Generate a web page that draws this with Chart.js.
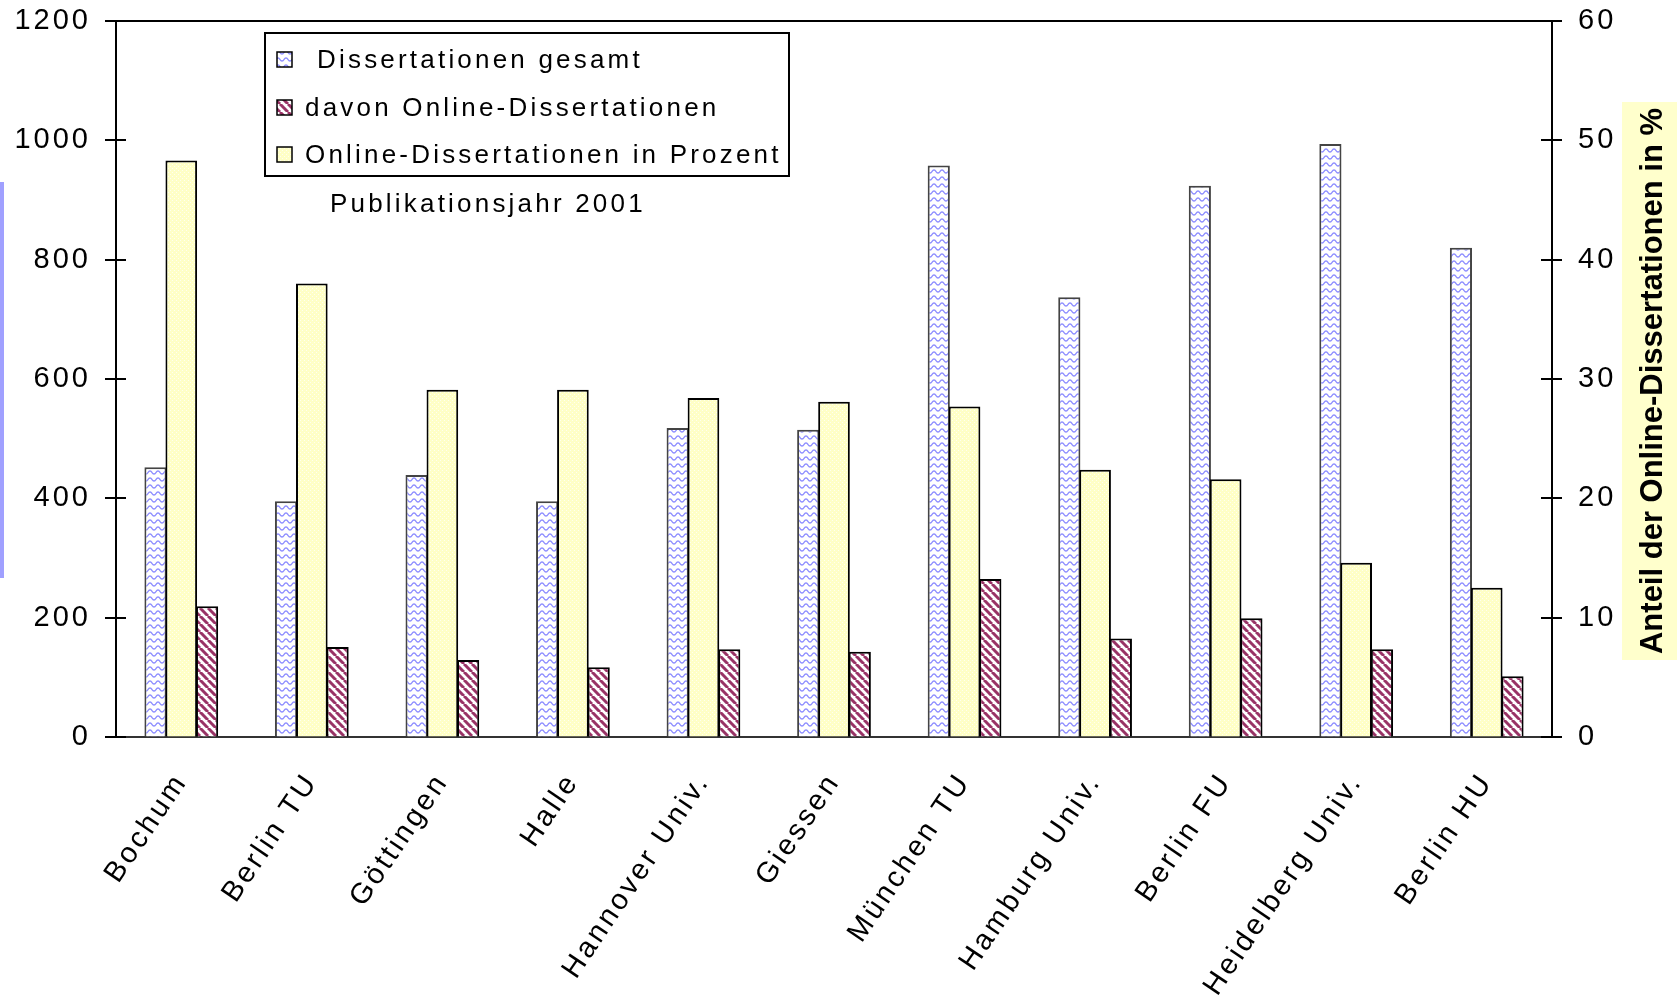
<!DOCTYPE html>
<html>
<head>
<meta charset="utf-8">
<script src="https://cdn.jsdelivr.net/npm/chart.js@4.4.1/dist/chart.umd.min.js"></script>
<style>
  html, body { margin: 0; padding: 0; background: #fff; }
  #wrap { width: 1677px; height: 999px; }
</style>
</head>
<body>
<div id="wrap"><canvas id="chart" width="1677" height="999"></canvas></div>
<script>
const universities = ['Bochum', 'Berlin TU', 'Göttingen', 'Halle', 'Hannover Univ.', 'Giessen',
  'München TU', 'Hamburg Univ.', 'Berlin FU', 'Heidelberg Univ.', 'Berlin HU'];
const totalDiss = [452, 395, 439, 395, 518, 515, 958, 737, 924, 994, 820];
const onlineDiss = [219, 151, 129, 117, 147, 143, 265, 165, 199, 147, 102];
const onlinePercent = [48.3, 38.0, 29.1, 29.1, 28.4, 28.1, 27.7, 22.4, 21.6, 14.6, 12.5];
const leftTicks = [0, 200, 400, 600, 800, 1000, 1200];
const rightTicks = [0, 10, 20, 30, 40, 50, 60];
const seriesNames = ['Dissertationen gesamt', 'davon Online-Dissertationen', 'Online-Dissertationen in Prozent'];
const subtitle = 'Publikationsjahr 2001';
const rightTitle = 'Anteil der Online-Dissertationen in %';

const FONT = "'Liberation Sans', Arial, sans-serif";
const MAROON = '#993366';
const WAVE = '#8c8cff';
const PALE_YELLOW = '#ffffc6';

// ─── fill patterns ────────────────────────────────────────────
function makeTile(w, h, paint) {
  const c = document.createElement('canvas');
  c.width = w; c.height = h;
  paint(c.getContext('2d'), w, h);
  return c.getContext('2d').createPattern(c, 'repeat');
}

const wavePattern = makeTile(8, 7, (g, w, h) => {
  g.fillStyle = '#fff'; g.fillRect(0, 0, w, h);
  g.strokeStyle = WAVE; g.lineWidth = 1.3;
  g.beginPath();
  for (let x = -1; x <= w + 1; x += 0.5) {
    const y = 3.5 + 1.6 * Math.sin((x / w) * Math.PI * 2);
    x === -1 ? g.moveTo(x, y) : g.lineTo(x, y);
  }
  g.stroke();
});

const dotPattern = makeTile(4, 4, (g, w, h) => {
  g.fillStyle = PALE_YELLOW; g.fillRect(0, 0, w, h);
  g.fillStyle = '#fffff0';
  g.fillRect(0, 0, 1, 1); g.fillRect(2, 2, 1, 1);
});

const stripePattern = makeTile(8, 8, (g, w, h) => {
  g.fillStyle = '#fff'; g.fillRect(0, 0, w, h);
  g.strokeStyle = MAROON; g.lineWidth = 3;
  [-w, 0, w].forEach((x0) => {
    g.beginPath(); g.moveTo(x0, 0); g.lineTo(x0 + w, h); g.stroke();
  });
});

// ─── extra drawing: frame, tick crosses, legend, titles ───────
const decor = {
  id: 'decor',
  beforeDraw(chart) { chart.ctx.letterSpacing = '3px'; },
  afterDraw(chart) {
    const { ctx, chartArea: a, scales } = chart;
    ctx.save();

    // cut-off left axis title
    ctx.fillStyle = '#a0a0ff';
    ctx.fillRect(0, 182, 4, 396);

    ctx.strokeStyle = '#000';
    ctx.lineWidth = 2;
    ctx.beginPath(); ctx.moveTo(a.left, a.top); ctx.lineTo(a.right, a.top); ctx.stroke();

    scales.y.ticks.forEach((t, i) => {
      const py = Math.round(scales.y.getPixelForTick(i));
      ctx.beginPath(); ctx.moveTo(a.left - 11, py); ctx.lineTo(a.left + 10, py); ctx.stroke();
    });
    scales.y2.ticks.forEach((t, i) => {
      const py = Math.round(scales.y2.getPixelForTick(i));
      ctx.beginPath(); ctx.moveTo(a.right - 11, py); ctx.lineTo(a.right + 10, py); ctx.stroke();
    });

    // right axis title on yellow
    ctx.fillStyle = '#ffffcc';
    ctx.fillRect(1622, 102, 55, 558);
    ctx.save();
    ctx.translate(1662, 381);
    ctx.rotate(-Math.PI / 2);
    ctx.letterSpacing = '0px';
    ctx.font = `bold 31px ${FONT}`;
    ctx.fillStyle = '#000';
    ctx.textAlign = 'center';
    ctx.textBaseline = 'alphabetic';
    ctx.fillText(rightTitle, 0, 0);
    ctx.restore();

    // legend box
    ctx.lineWidth = 2;
    ctx.strokeStyle = '#000';
    ctx.strokeRect(265, 33, 524, 143);
    const fills = [wavePattern, stripePattern, dotPattern];
    const rowY = [60, 108, 155];
    const textX = [317, 305, 305];
    ctx.font = `26px ${FONT}`;
    ctx.letterSpacing = '3.2px';
    ctx.textBaseline = 'middle';
    ctx.textAlign = 'left';
    seriesNames.forEach((name, i) => {
      ctx.fillStyle = fills[i];
      ctx.fillRect(277, rowY[i] - 8, 15, 15);
      ctx.lineWidth = 1.5;
      ctx.strokeRect(277, rowY[i] - 8, 15, 15);
      ctx.fillStyle = '#000';
      ctx.fillText(name, textX[i], rowY[i] + 1);
    });
    ctx.fillText(subtitle, 330, 205);

    ctx.restore();
  }
};

const tickFont = { family: FONT, size: 29 };
const plain = (v) => String(v);
const fixWidth = (w) => (s) => { s.width = w; s.paddingTop = 0; s.paddingBottom = 0; };

new Chart(document.getElementById('chart'), {
  type: 'bar',
  data: {
    labels: universities,
    datasets: [
      {
        label: seriesNames[0],
        data: totalDiss,
        yAxisID: 'y',
        backgroundColor: wavePattern,
        borderColor: '#444',
        borderWidth: 2,
        order: 1,
        categoryPercentage: 0.79,
        barPercentage: 0.43,
      },
      {
        label: seriesNames[1],
        data: onlineDiss,
        yAxisID: 'y',
        backgroundColor: stripePattern,
        borderColor: '#000',
        borderWidth: 2,
        order: 2,
        categoryPercentage: 0.79,
        barPercentage: 0.43,
      },
      {
        label: seriesNames[2],
        data: onlinePercent,
        yAxisID: 'y2',
        grouped: false,
        backgroundColor: dotPattern,
        borderColor: '#000',
        borderWidth: 2,
        order: 0,
        categoryPercentage: 0.2425,
        barPercentage: 1,
      },
    ],
  },
  options: {
    responsive: false,
    animation: false,
    devicePixelRatio: 1,
    layout: { padding: { top: 21, left: 0, right: 0, bottom: 0 } },
    plugins: { legend: { display: false }, tooltip: { enabled: false } },
    scales: {
      x: {
        grid: { drawOnChartArea: false, drawTicks: false },
        border: { display: true, color: '#333', width: 2 },
        ticks: {
          color: '#000', font: tickFont, autoSkip: false,
          minRotation: 56, maxRotation: 56, padding: 30,
        },
        afterFit: (s) => { s.height = 262; },
      },
      y: {
        position: 'left',
        min: 0, max: 1200,
        afterBuildTicks: (s) => { s.ticks = leftTicks.map((v) => ({ value: v })); },
        grid: { drawOnChartArea: false, drawTicks: false },
        border: { display: true, color: '#000', width: 2 },
        ticks: { color: '#000', font: tickFont, padding: 25, callback: plain },
        afterFit: fixWidth(116),
      },
      y2: {
        position: 'right',
        min: 0, max: 60,
        afterBuildTicks: (s) => { s.ticks = rightTicks.map((v) => ({ value: v })); },
        grid: { drawOnChartArea: false, drawTicks: false },
        border: { display: true, color: '#000', width: 2 },
        ticks: { color: '#000', font: tickFont, padding: 26, callback: plain },
        afterFit: fixWidth(125),
      },
    },
  },
  plugins: [decor],
});
</script>
</body>
</html>
